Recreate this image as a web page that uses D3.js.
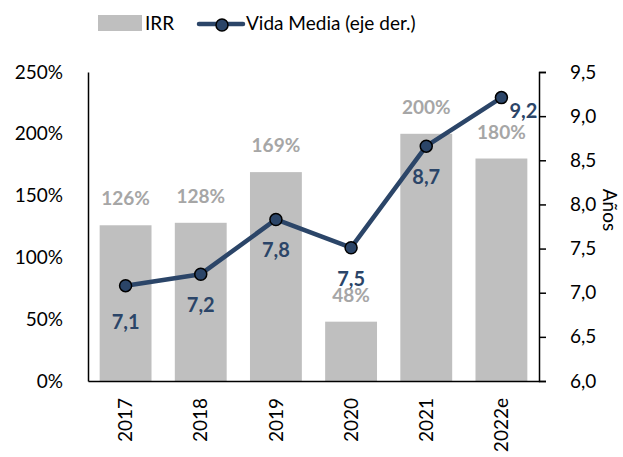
<!DOCTYPE html>
<html>
<head>
<meta charset="utf-8">
<script src="https://cdn.jsdelivr.net/npm/d3@7/dist/d3.min.js"></script>
<style>
  body { margin: 0; background: #fff; }
  svg { display: block; font-family: Lato, "Open Sans", sans-serif; }
</style>
</head>
<body>
<div id="chart"></div>
<script>
// chart data
const years = ["2017", "2018", "2019", "2020", "2021", "2022e"]
const irr = [1.26, 1.28, 1.69, 0.48, 2.00, 1.80]
const vidaMedia = [7.08, 7.21, 7.83, 7.51, 8.66, 9.21]
const leftTicks = [0, 0.5, 1, 1.5, 2, 2.5]
const rightTicks = [6, 6.5, 7, 7.5, 8, 8.5, 9, 9.5]

const width = 623, height = 457
const margin = { top: 72, right: 84, bottom: 76, left: 88 }
const navy = "#2b4568", grey = "#bfbfbf", greyText = "#a6a6a6"

const svg = d3.select("#chart").append("svg")
  .attr("width", width)
  .attr("height", height)

const x = d3.scaleBand()
  .domain(years)
  .range([margin.left, width - margin.right])
  .paddingInner(0.31)
  .paddingOuter(0.155)

const yLeft = d3.scaleLinear().domain([0, 2.5]).range([height - margin.bottom, margin.top])
const yRight = d3.scaleLinear().domain([6, 9.5]).range([height - margin.bottom, margin.top])

const comma = v => d3.format(".1f")(v).replace(".", ",")

// bars
svg.append("g")
  .selectAll("rect")
  .data(irr)
  .join("rect")
  .attr("x", (d, i) => x(years[i]))
  .attr("y", d => yLeft(d))
  .attr("width", x.bandwidth())
  .attr("height", d => yLeft(0) - yLeft(d))
  .attr("fill", grey)

// bar labels
svg.append("g")
  .selectAll("text")
  .data(irr)
  .join("text")
  .attr("x", (d, i) => x(years[i]) + x.bandwidth() / 2)
  .attr("y", d => yLeft(d) - 20)
  .attr("text-anchor", "middle")
  .attr("font-size", 19)
  .attr("font-weight", "bold")
  .attr("fill", greyText)
  .text(d => Math.round(d * 100) + "%")

// left axis
const axL = svg.append("g")
  .attr("transform", `translate(${margin.left},0)`)
  .call(d3.axisLeft(yLeft).tickValues(leftTicks).tickSize(0).tickPadding(25)
    .tickFormat(d => Math.round(d * 100) + "%"))
axL.select(".domain").attr("stroke", "#000").attr("stroke-width", 1.5)
axL.selectAll("text").attr("font-size", 19).attr("font-family", "Lato, sans-serif").attr("fill", "#000")

// right axis
const axR = svg.append("g")
  .attr("transform", `translate(${width - margin.right},0)`)
  .call(d3.axisRight(yRight).tickValues(rightTicks).tickSize(7).tickSizeOuter(7).tickPadding(24)
    .tickFormat(comma))
axR.select(".domain").attr("stroke", "#000").attr("stroke-width", 1.5)
axR.selectAll("line").attr("stroke", "#000").attr("stroke-width", 1.5)
axR.selectAll("text").attr("font-size", 19).attr("font-family", "Lato, sans-serif").attr("fill", "#000")

svg.append("text")
  .attr("transform", `translate(${603},${210}) rotate(90)`)
  .attr("text-anchor", "middle")
  .attr("font-size", 19)
  .text("Años")

// bottom axis
const axB = svg.append("g")
  .attr("transform", `translate(0,${height - margin.bottom})`)
  .call(d3.axisBottom(x).tickSize(0).tickSizeOuter(0).tickPadding(0))
axB.select(".domain").attr("stroke", "#000").attr("stroke-width", 1.5)
axB.selectAll("text")
  .attr("font-size", 19)
  .attr("font-family", "Lato, sans-serif")
  .attr("fill", "#000")
  .attr("text-anchor", "end")
  .attr("transform", "translate(0,17) rotate(-90)")
  .attr("dy", "0.35em")
  .attr("y", 0)

// line
const line = d3.line()
  .x((d, i) => x(years[i]) + x.bandwidth() / 2)
  .y(d => yRight(d))

svg.append("path")
  .datum(vidaMedia)
  .attr("d", line)
  .attr("fill", "none")
  .attr("stroke", navy)
  .attr("stroke-width", 4.5)
  .attr("stroke-linejoin", "round")

svg.append("g")
  .selectAll("circle")
  .data(vidaMedia)
  .join("circle")
  .attr("cx", (d, i) => x(years[i]) + x.bandwidth() / 2)
  .attr("cy", d => yRight(d))
  .attr("r", 6)
  .attr("fill", navy)
  .attr("stroke", "#000")
  .attr("stroke-width", 1.5)

svg.append("g")
  .selectAll("text")
  .data(vidaMedia)
  .join("text")
  .attr("x", (d, i) => x(years[i]) + x.bandwidth() / 2 + (i === 5 ? 22 : 0))
  .attr("y", (d, i) => yRight(d) + (i === 5 ? 20 : i === 0 ? 43 : 38))
  .attr("text-anchor", "middle")
  .attr("font-size", 20)
  .attr("font-weight", "bold")
  .attr("fill", navy)
  .text(comma)

// legend
const leg = svg.append("g")
leg.append("rect").attr("x", 98).attr("y", 15).attr("width", 44).attr("height", 16).attr("fill", grey)
leg.append("text").attr("x", 145).attr("y", 30).attr("font-size", 19).text("IRR")
leg.append("line").attr("x1", 199).attr("x2", 243).attr("y1", 24).attr("y2", 24)
  .attr("stroke", navy).attr("stroke-width", 4.5).attr("stroke-linecap", "round")
leg.append("circle").attr("cx", 222).attr("cy", 25).attr("r", 6)
  .attr("fill", navy).attr("stroke", "#000").attr("stroke-width", 1.5)
leg.append("text").attr("x", 246).attr("y", 30).attr("font-size", 19).text("Vida Media (eje der.)")
</script>
</body>
</html>
